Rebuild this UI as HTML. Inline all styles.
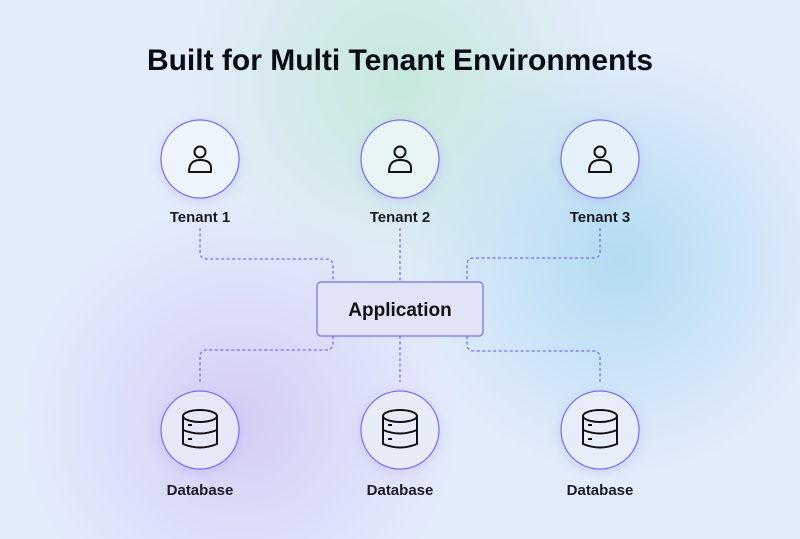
<!DOCTYPE html>
<html><head><meta charset="utf-8"><style>
html,body{margin:0;padding:0;width:800px;height:539px;overflow:hidden}
body{background:#e3ecfb;font-family:"Liberation Sans",sans-serif}
</style></head><body>
<svg width="800" height="539" viewBox="0 0 800 539" xmlns="http://www.w3.org/2000/svg">
<defs>
<radialGradient id="g1" cx="400" cy="80" r="220" gradientUnits="userSpaceOnUse"><stop offset="0" stop-color="#c6e8dc"/><stop offset="1" stop-color="#c6e8dc" stop-opacity="0"/></radialGradient>
<radialGradient id="g2" cx="620" cy="260" r="220" gradientUnits="userSpaceOnUse"><stop offset="0" stop-color="#b2dcf2"/><stop offset="1" stop-color="#b2dcf2" stop-opacity="0"/></radialGradient>
<radialGradient id="g3" cx="240" cy="420" r="220" gradientUnits="userSpaceOnUse"><stop offset="0" stop-color="#d3cef5"/><stop offset="1" stop-color="#d3cef5" stop-opacity="0"/></radialGradient>
<filter id="sh" x="-50%" y="-50%" width="200%" height="200%"><feGaussianBlur stdDeviation="7"/></filter>
</defs>
<rect width="800" height="539" fill="#e3ecfb"/>
<rect width="800" height="539" fill="url(#g1)"/>
<rect width="800" height="539" fill="url(#g2)"/>
<rect width="800" height="539" fill="url(#g3)"/>
<text x="400" y="70" text-anchor="middle" font-size="30" font-weight="bold" fill="#0b0b14">Built for Multi Tenant Environments</text>
<g fill="none" stroke="#7a6ee6" stroke-width="1.3" stroke-dasharray="3,2.5">
<path d="M200 228 V252 Q200 259 207 259 H326 Q333 259 333 266 V282"/>
<path d="M400 228 V282"/>
<path d="M600 228 V252 Q600 258 593 258 H474 Q467 258 467 265 V282"/>
<path d="M333 336 V343 Q333 350 326 350 H207 Q200 350 200 357 V382"/>
<path d="M400 336 V382"/>
<path d="M467 336 V344 Q467 351 474 351 H593 Q600 351 600 358 V382"/>
</g>
<rect x="317" y="282" width="166" height="54" rx="4" fill="#e1e3f6" stroke="#7a6ee6" stroke-width="1.2"/>
<text x="400" y="316" text-anchor="middle" font-size="19" font-weight="bold" fill="#111">Application</text>
<g fill="#9a90ee" opacity="0.35" filter="url(#sh)">
<circle cx="200" cy="162" r="38"/><circle cx="400" cy="162" r="38"/><circle cx="600" cy="162" r="38"/>
<circle cx="200" cy="433" r="38"/><circle cx="400" cy="433" r="38"/><circle cx="600" cy="433" r="38"/>
</g>
<g>
<circle cx="200" cy="159" r="39" fill="#edf4fb" stroke="#7a6ee6" stroke-width="1.2"/>
<circle cx="400" cy="159" r="39" fill="#e8f5f4" stroke="#7a6ee6" stroke-width="1.2"/>
<circle cx="600" cy="159" r="39" fill="#e6f2fa" stroke="#7a6ee6" stroke-width="1.2"/>
<circle cx="200" cy="430" r="39" fill="#e6e8f8" stroke="#7a6ee6" stroke-width="1.2"/>
<circle cx="400" cy="430" r="39" fill="#e8ecf9" stroke="#7a6ee6" stroke-width="1.2"/>
<circle cx="600" cy="430" r="39" fill="#e8eef9" stroke="#7a6ee6" stroke-width="1.2"/>
</g>
<g fill="none" stroke="#111" stroke-width="2">
<g id="u"><circle cx="200" cy="152" r="5.5"/><path d="M189 172 Q189 160 200 160 Q211 160 211 168 V172 Z" stroke-linejoin="round"/></g>
<use href="#u" x="200"/><use href="#u" x="400"/>
<g id="d"><ellipse cx="200" cy="416" rx="17" ry="6"/><path d="M183 416 V444 Q200 451 217 444 V416 M183 430 Q200 437 217 430"/><path d="M188 425 h4 M188 439 h4"/></g>
<use href="#d" x="200"/><use href="#d" x="400"/>
</g>
<g font-size="15" font-weight="bold" fill="#1a1a22" text-anchor="middle">
<text x="200" y="222">Tenant 1</text><text x="400" y="222">Tenant 2</text><text x="600" y="222">Tenant 3</text>
<text x="200" y="495">Database</text><text x="400" y="495">Database</text><text x="600" y="495">Database</text>
</g>
</svg>
</body></html>
